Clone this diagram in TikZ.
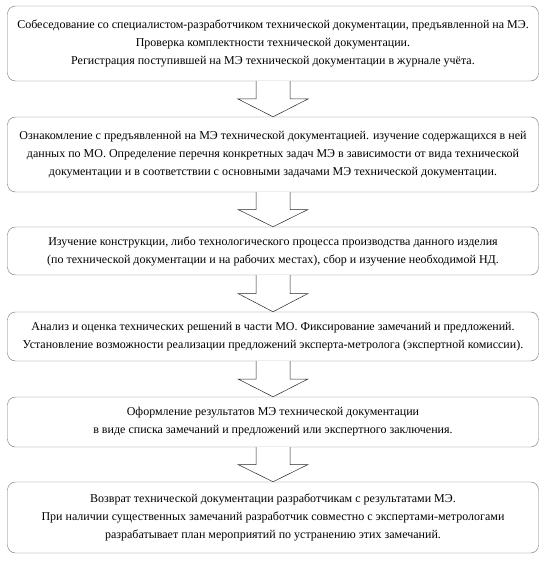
\documentclass[tikz,border=0pt]{standalone}
\usepackage{fontspec}
\setmainfont{Liberation Serif}
\usetikzlibrary{calc}

\tikzset{
  stagebox/.style={draw=black!55, rounded corners=8pt, minimum width=531pt,
    align=center, inner sep=0pt, font=\fontsize{12}{18}\selectfont},
  blockarr/.style={draw=black!85, fill=white, line width=0.5pt}
}

% hollow block arrow from one box to the next
\newcommand{\stagearrow}[2]{%
  \draw[blockarr] ($(#1.south)+(-17pt,0)$) |- ($(#1.south)!0.5!(#2.north)+(-35pt,0)$)
    -- (#2.north) -- ($(#1.south)!0.5!(#2.north)+(35pt,0)$) -| ($(#1.south)+(17pt,0)$);}

\begin{document}
\begin{tikzpicture}[x=1pt, y=1pt]
    \useasboundingbox (0,0) rectangle (543,-564);
    % Boxes
    \node[stagebox, minimum height=75pt] (interview) at (273,-43.5)
      {Собеседование со специалистом-разработчиком технической документации, предъявленной на МЭ.\\
       Проверка комплектности технической документации.\\
       Регистрация поступившей на МЭ технической документации в журнале учёта.};
    \node[stagebox, minimum height=75pt] (review) at (273,-154.5)
      {Ознакомление с предъявленной на МЭ технической документацией. изучение содержащихся в ней\\
       данных по МО. Определение перечня конкретных задач МЭ в зависимости от вида технической\\
       документации и в соответствии с основными задачами МЭ технической документации.};
    \node[stagebox, minimum height=48pt] (study) at (273,-251)
      {Изучение конструкции, либо технологического процесса производства данного изделия\\
       (по технической документации и на рабочих местах), сбор и изучение необходимой НД.};
    \node[stagebox, minimum height=49pt] (analysis) at (273,-336.5)
      {Анализ и оценка технических решений в части МО. Фиксирование замечаний и предложений.\\
       Установление возможности реализации предложений эксперта-метролога (экспертной комиссии).};
    \node[stagebox, minimum height=50pt] (results) at (273,-422)
      {Оформление результатов МЭ технической документации\\
       в виде списка замечаний и предложений или экспертного заключения.};
    \node[stagebox, minimum height=71pt] (return) at (273,-517.5)
      {Возврат технической документации разработчикам с результатами МЭ.\\
       При наличии существенных замечаний разработчик совместно с экспертами-метрологами\\
       разрабатывает план мероприятий по устранению этих замечаний.};
    % Arrows
    \stagearrow{interview}{review}
    \stagearrow{review}{study}
    \stagearrow{study}{analysis}
    \stagearrow{analysis}{results}
    \stagearrow{results}{return}
\end{tikzpicture}
\end{document}
